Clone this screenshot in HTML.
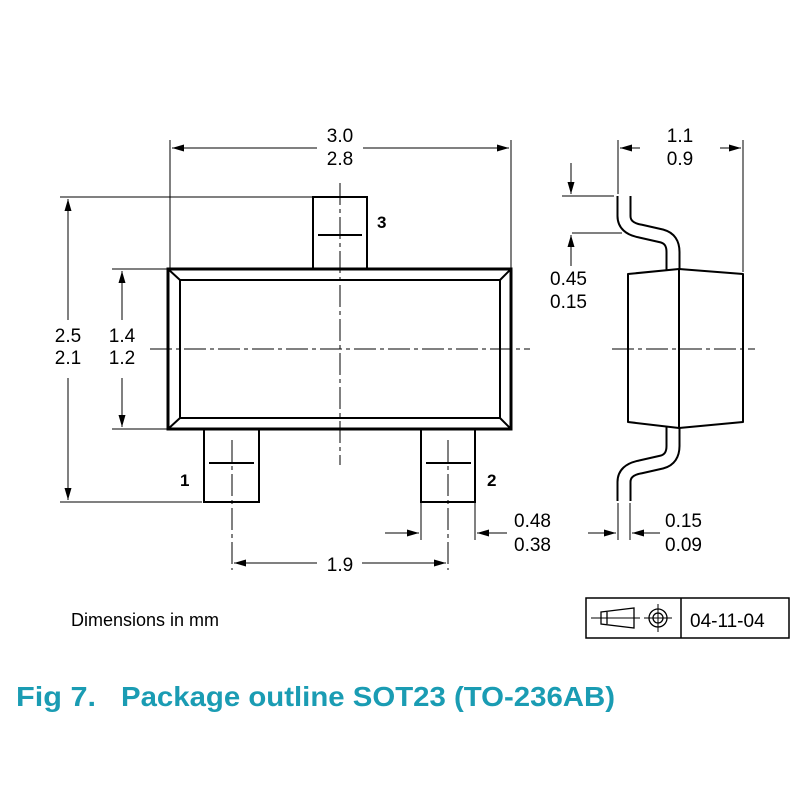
<!DOCTYPE html>
<html><head><style>body{margin:0;background:#fff}svg{display:block}text{font-family:"Liberation Sans",sans-serif}</style></head>
<body>
<svg width="800" height="800" viewBox="0 0 800 800" xmlns="http://www.w3.org/2000/svg">
<defs>
<marker id="a" viewBox="0 0 12 7" refX="12" refY="3.5" markerWidth="13" markerHeight="7" markerUnits="userSpaceOnUse" orient="auto"><path d="M0,0L12,3.5L0,7z" fill="#000"/></marker>
</defs>
<g stroke="#000" fill="none" stroke-width="1">
<line x1="170" y1="140" x2="170" y2="268"/>
<line x1="511" y1="140" x2="511" y2="268"/>
<line x1="60" y1="197" x2="312" y2="197"/>
<line x1="60" y1="502" x2="202" y2="502"/>
<line x1="112" y1="269" x2="167" y2="269"/>
<line x1="112" y1="429" x2="167" y2="429"/>
<path d="M317,148H172" marker-end="url(#a)"/>
<path d="M363,148H509" marker-end="url(#a)"/>
<path d="M68,320V199" marker-end="url(#a)"/>
<path d="M68,378V500" marker-end="url(#a)"/>
<path d="M122,320V271" marker-end="url(#a)"/>
<path d="M122,378V427" marker-end="url(#a)"/>
<line x1="340" y1="183" x2="340" y2="465" stroke-dasharray="22,4,4,4"/>
<line x1="150" y1="349" x2="530" y2="349" stroke-dasharray="22,4,4,4"/>
<line x1="232" y1="440" x2="232" y2="570" stroke-dasharray="22,4,4,4"/>
<line x1="448" y1="440" x2="448" y2="570" stroke-dasharray="22,4,4,4"/>
<line x1="421" y1="502" x2="421" y2="540"/>
<line x1="475" y1="502" x2="475" y2="540"/>
<path d="M385,533H419" marker-end="url(#a)"/>
<path d="M507,533H477" marker-end="url(#a)"/>
<path d="M317,563H234" marker-end="url(#a)"/>
<path d="M362,563H446" marker-end="url(#a)"/>
</g>
<g stroke="#000" fill="none">
<rect x="313" y="197" width="54" height="72" stroke-width="2"/>
<rect x="204" y="429" width="55" height="73" stroke-width="2"/>
<rect x="421" y="429" width="54" height="73" stroke-width="2"/>
<rect x="168" y="269" width="343" height="160" stroke-width="3"/>
<rect x="180" y="280" width="320" height="138" stroke-width="2"/>
<path d="M168,269L180,280M511,269L500,280M168,429L180,418M511,429L500,418" stroke-width="2"/>
<path d="M318,235H362M209,463H254M426,463H471" stroke-width="2"/>
</g>
<g font-size="17" font-weight="bold" fill="#000">
<text x="377" y="228">3</text><text x="180" y="486">1</text><text x="487" y="486">2</text>
</g>
<g font-size="19" fill="#000" text-anchor="middle">
<text x="340" y="142">3.0</text><text x="340" y="165">2.8</text>
<text x="68" y="342">2.5</text><text x="68" y="364">2.1</text>
<text x="122" y="342">1.4</text><text x="122" y="364">1.2</text>
<text x="340" y="571">1.9</text>
<text x="680" y="142">1.1</text><text x="680" y="165">0.9</text>
</g>
<g font-size="19" fill="#000">
<text x="514" y="527">0.48</text><text x="514" y="551">0.38</text>
<text x="550" y="285">0.45</text><text x="550" y="308">0.15</text>
<text x="665" y="527">0.15</text><text x="665" y="551">0.09</text>
<text x="71" y="626" font-size="18">Dimensions in mm</text>
</g>
<g stroke="#000" fill="none" stroke-width="1">
<line x1="618" y1="140" x2="618" y2="194"/>
<line x1="743" y1="140" x2="743" y2="272"/>
<path d="M640,148H620" marker-end="url(#a)"/>
<path d="M720,148H741" marker-end="url(#a)"/>
<line x1="562" y1="196" x2="614" y2="196"/>
<line x1="572" y1="233" x2="622" y2="233"/>
<path d="M571,163V194" marker-end="url(#a)"/>
<path d="M571,266V235" marker-end="url(#a)"/>
<line x1="618" y1="503" x2="618" y2="540"/>
<line x1="630" y1="503" x2="630" y2="540"/>
<path d="M588,533H616" marker-end="url(#a)"/>
<path d="M660,533H632" marker-end="url(#a)"/>
</g>
<g fill="none" stroke-linejoin="round">
<path d="M624,196V216Q624,228 640,231L662,236Q673,239 673,252V446Q673,459 662,462L640,467Q624,470 624,482V501" stroke="#000" stroke-width="15"/>
<path d="M624,194V216Q624,228 640,231L662,236Q673,239 673,252V446Q673,459 662,462L640,467Q624,470 624,482V503" stroke="#fff" stroke-width="11"/>
<path d="M628,274L679,269L743,274V422L679,428L628,422Z" fill="#fff" stroke="#000" stroke-width="2"/>
<line x1="679" y1="269" x2="679" y2="428" stroke="#000" stroke-width="2"/>
<line x1="612" y1="349" x2="755" y2="349" stroke="#000" stroke-dasharray="22,4,4,4"/>
</g>
<g stroke="#000" fill="none">
<rect x="586" y="598" width="203" height="40" stroke-width="1.5"/>
<line x1="681" y1="598" x2="681" y2="638" stroke-width="1.5"/>
<path d="M601,612L634,608V628L601,624Z M607,612V624" stroke-width="1.3"/>
<line x1="591" y1="618" x2="640" y2="618" stroke-width="1"/>
<circle cx="658" cy="618" r="9" stroke-width="1.3"/>
<circle cx="658" cy="618" r="5" stroke-width="1.3"/>
<path d="M644,618H672M658,604V632" stroke-width="1"/>
</g>
<text x="690" y="627" font-size="19" fill="#000">04-11-04</text>
<text x="16" y="706" font-size="28" font-weight="bold" fill="#1a9cb3" textLength="80" lengthAdjust="spacingAndGlyphs">Fig 7.</text>
<text x="121" y="706" font-size="28" font-weight="bold" fill="#1a9cb3" textLength="494" lengthAdjust="spacingAndGlyphs">Package outline SOT23 (TO-236AB)</text>
</svg>
</body></html>
